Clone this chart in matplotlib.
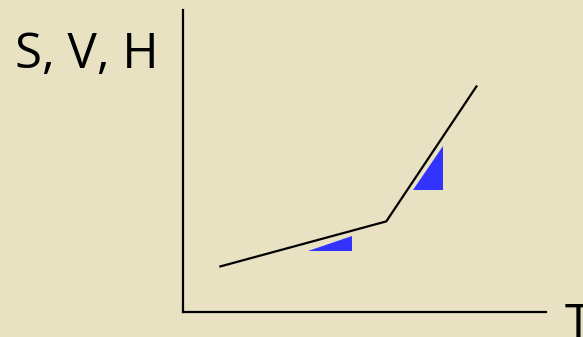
import matplotlib
matplotlib.use("Agg")
import matplotlib.pyplot as plt
from matplotlib.patches import Polygon

# --- Data ---
T = [10, 56, 81]          # temperature (arbitrary units)
SVH = [15, 30, 75]        # S, V or H along the curve
slope_low = [(34.4, 20.2), (46.6, 20.2), (46.6, 25.2)]
slope_high = [(63.4, 40.4), (71.6, 40.4), (71.6, 55.0)]
y_label = "S, V, H"
x_label = "T"

bg = "#e9e2c2"
blue = "#3333ff"

W, H = 583, 337
fig = plt.figure(figsize=(W / 100, H / 100), dpi=100, facecolor=bg)

# axes box: origin at the corner of the two black axis lines
ax = fig.add_axes([183 / W, (H - 312) / H, (546 - 183) / W, (312 - 10) / H])
ax.set_facecolor("none")
ax.set_xlim(0, 100)
ax.set_ylim(0, 100)
for side in ["top", "right"]:
    ax.spines[side].set_visible(False)
for side in ["left", "bottom"]:
    ax.spines[side].set_linewidth(1.6)
    ax.spines[side].set_color("black")
ax.set_xticks([])
ax.set_yticks([])

ax.plot(T, SVH, color="black", lw=1.6, solid_capstyle="butt")
ax.add_patch(Polygon(slope_low, closed=True, color=blue, lw=0))
ax.add_patch(Polygon(slope_high, closed=True, color=blue, lw=0))

fig.text(15 / W, 1 - 68 / H, y_label, fontsize=35.5, family="Open Sans",
         ha="left", va="baseline")
fig.text(565 / W, 1 - 339 / H, x_label, fontsize=35.5, family="Open Sans",
         ha="left", va="baseline")

fig.savefig("out.png", dpi=100, facecolor=bg)
